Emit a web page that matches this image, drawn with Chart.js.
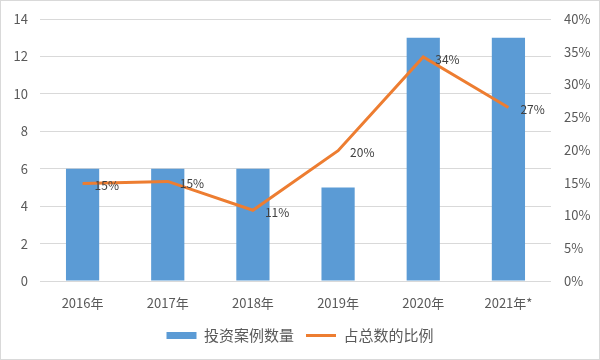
<!DOCTYPE html>
<html><head><meta charset="utf-8">
<script src="https://cdn.jsdelivr.net/npm/chart.js@4/dist/chart.umd.min.js"></script>
<style>
html,body{margin:0;padding:0;background:#fff;}
#wrap{position:absolute;left:0;top:0;width:598px;height:358px;border:1px solid #d9d9d9;}
</style></head>
<body><div id="wrap"><canvas id="c" width="598" height="358"></canvas></div>
<script>
const categories = ["2016年","2017年","2018年","2019年","2020年","2021年*"];
const caseCounts = [6, 6, 6, 5, 13, 13];
const shareOfTotal = [14.9, 15.2, 10.8, 19.9, 34.2, 26.5];
const barLabel = "投资案例数量";
const lineLabel = "占总数的比例";

const FONT = "'Noto Sans CJK SC','Noto Sans',sans-serif";
const textColor = "#595959";

const lineLabels = {
  id: 'lineLabels',
  afterDatasetsDraw(chart) {
    const ctx = chart.ctx;
    const meta = chart.getDatasetMeta(1);
    ctx.save();
    ctx.font = "12px " + FONT;
    ctx.fillStyle = "#404040";
    ctx.textAlign = "left";
    ctx.textBaseline = "middle";
    meta.data.forEach((pt, i) => {
      ctx.fillText(Math.round(shareOfTotal[i]) + "%", pt.x + 12, pt.y + 2);
    });
    ctx.restore();
  }
};

function noVPad(s) { s.paddingTop = 0; s.paddingBottom = 0; }

new Chart(document.getElementById('c'), {
  data: {
    labels: categories,
    datasets: [
      { type: 'bar', label: barLabel, data: caseCounts, backgroundColor: '#5B9BD5',
        yAxisID: 'y', categoryPercentage: 1, barPercentage: 0.39, order: 2 },
      { type: 'line', label: lineLabel, data: shareOfTotal, borderColor: '#ED7D31',
        backgroundColor: '#ED7D31', borderWidth: 3, pointRadius: 0, tension: 0,
        yAxisID: 'y1', order: 1 }
    ]
  },
  options: {
    responsive: false,
    animation: false,
    layout: { padding: { left: 0, right: 0, top: 18, bottom: 6 } },
    plugins: {
      tooltip: { enabled: false },
      legend: {
        position: 'bottom',
        labels: {
          usePointStyle: true, pointStyleWidth: 30, boxHeight: 7,
          color: textColor, font: { family: FONT, size: 15 }, padding: 12,
          generateLabels(chart) {
            const ls = Chart.defaults.plugins.legend.labels.generateLabels(chart);
            ls.sort((a, b) => a.datasetIndex - b.datasetIndex);
            ls[0].pointStyle = 'rect'; ls[0].lineWidth = 0;
            ls[1].pointStyle = 'line';
            return ls;
          }
        }
      }
    },
    scales: {
      x: {
        grid: { display: false, drawTicks: false }, border: { display: false },
        ticks: { color: textColor, font: { family: FONT, size: 13 }, padding: 14 },
        afterFit(s) { s.height = 35; }
      },
      y: {
        position: 'left', min: 0, max: 14,
        ticks: { stepSize: 2, color: textColor, font: { family: FONT, size: 13 }, padding: 12 },
        grid: { color: '#d9d9d9', lineWidth: 1, drawTicks: false }, border: { display: false },
        afterFit(s) { s.width = 39; noVPad(s); }
      },
      y1: {
        position: 'right', min: 0, max: 40,
        ticks: { stepSize: 5, color: textColor, font: { family: FONT, size: 13 }, padding: 13,
          callback: v => v + '%' },
        grid: { display: false, drawTicks: false }, border: { display: false },
        afterFit(s) { s.width = 48; noVPad(s); }
      }
    }
  },
  plugins: [lineLabels]
});
</script></body></html>
